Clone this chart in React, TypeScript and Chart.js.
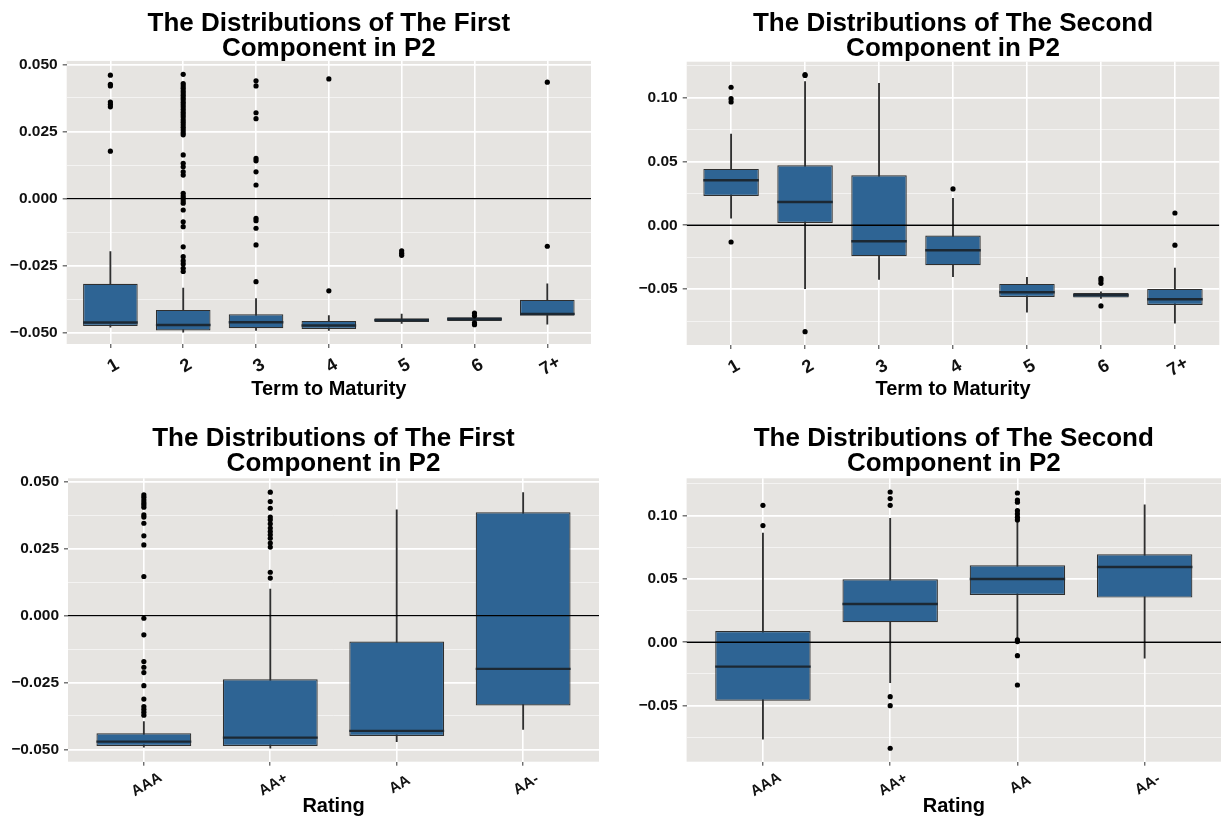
import React, { useEffect, useRef } from "react";
import { Chart, registerables } from "chart.js";

Chart.register(...registerables);

// ---------------- Data ----------------
const termCategories = ["1", "2", "3", "4", "5", "6", "7+"];
const ratingCategories = ["AAA", "AA+", "AA", "AA-"];

const firstTitle = ["The Distributions of The First", "Component in P2"];
const secondTitle = ["The Distributions of The Second", "Component in P2"];
const termAxisTitle = "Term to Maturity";
const ratingAxisTitle = "Rating";

// y tick labels
const firstTickValues = [-0.05, -0.025, 0, 0.025, 0.05];
const firstTickLabels = ["\u22120.050", "\u22120.025", "0.000", "0.025", "0.050"];
const firstMinorValues = [-0.0375, -0.0125, 0.0125, 0.0375];
const secondTickValues = [-0.05, 0, 0.05, 0.1];
const secondTickLabels = ["\u22120.05", "0.00", "0.05", "0.10"];
const secondMinorValues = [-0.075, -0.025, 0.025, 0.075, 0.125];

// Panel A: first component by term to maturity
const termFirstLow = [-0.0478, -0.0497, -0.049, -0.049, -0.0464, -0.0458, -0.0467];
const termFirstQ1 = [-0.0474, -0.0491, -0.0482, -0.0485, -0.0459, -0.0455, -0.0436];
const termFirstMedian = [-0.0461, -0.047, -0.046, -0.0472, -0.0452, -0.0448, -0.0429];
const termFirstQ3 = [-0.0317, -0.0414, -0.043, -0.0455, -0.0445, -0.0441, -0.0376];
const termFirstHigh = [-0.0197, -0.0333, -0.0372, -0.0435, -0.043, -0.0438, -0.0317];
const termFirstOutliers = [
  [0.046, 0.0426, 0.042, 0.036, 0.0351, 0.0342, 0.0177],
  [0.0463, 0.0429, 0.042, 0.0411, 0.0402, 0.0394, 0.0385, 0.0376, 0.0368, 0.0359, 0.035, 0.0341,
    0.0332, 0.0322, 0.0313, 0.0304, 0.0294, 0.0285, 0.0275, 0.0266, 0.0256, 0.0246, 0.0238,
    0.0163, 0.0132, 0.0119, 0.01, 0.0088, 0.002, 0.001, 0.0001, -0.0009, -0.0017, -0.0042,
    -0.0086, -0.0104, -0.0179, -0.0216, -0.0231, -0.0243, -0.0259, -0.0271],
  [0.0439, 0.042, 0.032, 0.0298, 0.015, 0.0141, 0.01, 0.0051, -0.0073, -0.0082, -0.011, -0.0172, -0.0309],
  [0.0446, -0.0343],
  [-0.0194, -0.0203, -0.0211],
  [-0.0426, -0.0436, -0.0462, -0.0469],
  [0.0434, -0.0177],
];

// Panel B: second component by term to maturity
const termSecondLow = [0.0055, -0.0496, -0.0423, -0.0402, -0.0681, -0.0572, -0.0767];
const termSecondQ1 = [0.0229, 0.0018, -0.0243, -0.0313, -0.0561, -0.0566, -0.0624];
const termSecondMedian = [0.0352, 0.0182, -0.0125, -0.0196, -0.0524, -0.0548, -0.0579];
const termSecondQ3 = [0.0441, 0.0469, 0.0391, -0.0081, -0.0459, -0.053, -0.0498];
const termSecondHigh = [0.0714, 0.1124, 0.1111, 0.0211, -0.0407, -0.052, -0.0336];
const termSecondOutliers = [
  [0.108, 0.0991, 0.0965, -0.0131],
  [0.118, 0.1172, -0.0833],
  [],
  [0.0284],
  [],
  [-0.0415, -0.0433, -0.0454, -0.0631],
  [0.0096, -0.0156],
];

// Panel C: first component by rating
const ratingFirstLow = [-0.0492, -0.0495, -0.0471, -0.0425];
const ratingFirstQ1 = [-0.0487, -0.0487, -0.045, -0.0336];
const ratingFirstMedian = [-0.0471, -0.0456, -0.0431, -0.0199];
const ratingFirstQ3 = [-0.044, -0.0238, -0.0097, 0.0386];
const ratingFirstHigh = [-0.0396, 0.0099, 0.0395, 0.046];
const ratingFirstOutliers = [
  [0.0451, 0.0442, 0.0432, 0.0422, 0.0414, 0.0405, 0.0376, 0.0368, 0.0345, 0.0298, 0.0264, 0.0146,
    -0.001, -0.0072, -0.0172, -0.0193, -0.0213, -0.0262, -0.0312, -0.034, -0.035, -0.0361, -0.0372],
  [0.0461, 0.0426, 0.0401, 0.0368, 0.0358, 0.0343, 0.0327, 0.0314, 0.0302, 0.0289, 0.0271, 0.0256, 0.0162, 0.014],
  [],
  [],
];

// Panel D: second component by rating
const ratingSecondLow = [-0.0765, -0.0319, 0.0032, -0.0126];
const ratingSecondQ1 = [-0.0461, 0.0158, 0.0373, 0.0352];
const ratingSecondMedian = [-0.0192, 0.0302, 0.0499, 0.0594];
const ratingSecondQ3 = [0.0089, 0.0497, 0.0607, 0.0694];
const ratingSecondHigh = [0.086, 0.0978, 0.0951, 0.1083];
const ratingSecondOutliers = [
  [0.108, 0.092],
  [0.1185, 0.1133, 0.108, -0.0429, -0.05, -0.0836],
  [0.1177, 0.1122, 0.1104, 0.1038, 0.1012, 0.0986, 0.0965, 0.0018, 0.0005, -0.0106, -0.0337],
  [],
];

// ---------------- Styles ----------------
const FONT = "'Liberation Sans', Arial, Helvetica, sans-serif";
const PANEL_BG = "#E6E4E1";
const BOX_FILL = "#2E6494";
const BOX_LINE = "#2f2f2f";
const MEDIAN_LINE = "#1c2833";
const TEXT = "#111111";
const BOX_WIDTH = 0.75;

type Spec = {
  title: string[];
  xTitle: string;
  cats: string[];
  low: number[];
  q1: number[];
  med: number[];
  q3: number[];
  high: number[];
  outliers: number[][];
  yMin: number;
  yMax: number;
  yMajor: number[];
  yLabels: string[];
  yMinor: number[];
  left: number;
  top: number;
  width: number;
  height: number;
  area: { left: number; right: number; top: number; bottom: number };
  titlePadTop: number;
  xTitlePadBottom: number;
  xLabelSize: number;
  xLabelDy: number;
};

const TITLE_LH = 0.96;
const TITLE_SIZE = 26;

const specs: Spec[] = [
  {
    title: firstTitle, xTitle: termAxisTitle, cats: termCategories,
    low: termFirstLow, q1: termFirstQ1, med: termFirstMedian, q3: termFirstQ3, high: termFirstHigh,
    outliers: termFirstOutliers,
    yMin: -0.0541, yMax: 0.0513, yMajor: firstTickValues, yLabels: firstTickLabels, yMinor: firstMinorValues,
    left: 0, top: 0, width: 612, height: 410,
    area: { left: 66.7, right: 591, top: 60.7, bottom: 344 },
    titlePadTop: 11, xTitlePadBottom: 9, xLabelSize: 18, xLabelDy: 22,
  },
  {
    title: secondTitle, xTitle: termAxisTitle, cats: termCategories,
    low: termSecondLow, q1: termSecondQ1, med: termSecondMedian, q3: termSecondQ3, high: termSecondHigh,
    outliers: termSecondOutliers,
    yMin: -0.0937, yMax: 0.128, yMajor: secondTickValues, yLabels: secondTickLabels, yMinor: secondMinorValues,
    left: 612, top: 0, width: 613, height: 410,
    area: { left: 74.7, right: 607.3, top: 61.7, bottom: 345 },
    titlePadTop: 11, xTitlePadBottom: 9, xLabelSize: 18, xLabelDy: 22,
  },
  {
    title: firstTitle, xTitle: ratingAxisTitle, cats: ratingCategories,
    low: ratingFirstLow, q1: ratingFirstQ1, med: ratingFirstMedian, q3: ratingFirstQ3, high: ratingFirstHigh,
    outliers: ratingFirstOutliers,
    yMin: -0.0546, yMax: 0.0513, yMajor: firstTickValues, yLabels: firstTickLabels, yMinor: firstMinorValues,
    left: 0, top: 410, width: 612, height: 410,
    area: { left: 68, right: 599, top: 68.3, bottom: 351.7 },
    titlePadTop: 16, xTitlePadBottom: 1.5, xLabelSize: 15, xLabelDy: 23,
  },
  {
    title: secondTitle, xTitle: ratingAxisTitle, cats: ratingCategories,
    low: ratingSecondLow, q1: ratingSecondQ1, med: ratingSecondMedian, q3: ratingSecondQ3, high: ratingSecondHigh,
    outliers: ratingSecondOutliers,
    yMin: -0.0942, yMax: 0.1293, yMajor: secondTickValues, yLabels: secondTickLabels, yMinor: secondMinorValues,
    left: 612, top: 410, width: 613, height: 410,
    area: { left: 74.6, right: 609.4, top: 68.3, bottom: 351.7 },
    titlePadTop: 16, xTitlePadBottom: 1.5, xLabelSize: 15, xLabelDy: 23,
  },
];

function makeChart(canvas: HTMLCanvasElement, p: Spec) {
  const n = p.cats.length;
  const xs = p.cats.map((_, i) => i + 1);
  const whiskers = xs.map((x, i) => ({ x, y: [p.low[i], p.high[i]] }));
  const boxes = xs.map((x, i) => ({ x, y: [p.q1[i], p.q3[i]] }));
  const medians = xs.map((x, i) => ({ x, y: p.med[i] }));
  const outs = p.outliers.flatMap((arr, i) => arr.map((v) => ({ x: i + 1, y: v })));
  const zeroLine = [{ x: 0.4, y: 0 }, { x: n + 0.6, y: 0 }];

  const majorSet = new Set(p.yMajor);
  const labelOf = new Map<number, string>(p.yMajor.map((v, i) => [v, p.yLabels[i]]));
  const yTicks = [...p.yMajor, ...p.yMinor].sort((a, b) => a - b);

  const halfBox = (ctx: any) => {
    const s = ctx.chart.scales.x;
    if (!s) return 20;
    return Math.abs(s.getPixelForValue(1 + BOX_WIDTH / 2) - s.getPixelForValue(1));
  };

  const titleLine = TITLE_SIZE * TITLE_LH;
  const titlePadBottom = Math.max(0, p.area.top - p.titlePadTop - titleLine * p.title.length);

  const panelBg = {
    id: "panelBg",
    beforeDraw(chart: any) {
      const { ctx, chartArea: a } = chart;
      ctx.save();
      ctx.fillStyle = PANEL_BG;
      ctx.fillRect(a.left, a.top, a.right - a.left, a.bottom - a.top);
      ctx.restore();
    },
  };

  const rotatedLabels = {
    id: "rotatedLabels",
    afterDraw(chart: any) {
      const ctx = chart.ctx;
      const sx = chart.scales.x;
      const b = chart.chartArea.bottom;
      ctx.save();
      ctx.font = `bold ${p.xLabelSize}px ${FONT}`;
      ctx.fillStyle = TEXT;
      ctx.textAlign = "center";
      ctx.textBaseline = "middle";
      p.cats.forEach((label, i) => {
        const x = sx.getPixelForValue(i + 1);
        ctx.save();
        ctx.translate(x + 3, b + p.xLabelDy);
        ctx.rotate(-Math.PI / 6);
        ctx.fillText(label, 0, 0);
        ctx.restore();
      });
      ctx.restore();
    },
  };

  return new Chart(canvas, {
    type: "bar",
    data: {
      datasets: [
        {
          type: "line",
          data: zeroLine,
          borderColor: "#000",
          borderWidth: 1.3,
          pointRadius: 0,
          order: 0,
        } as any,
        {
          type: "scatter",
          data: outs,
          pointRadius: 2.6,
          pointBackgroundColor: "#000",
          pointBorderWidth: 0,
          order: 1,
        } as any,
        {
          type: "scatter",
          data: medians,
          pointStyle: "line",
          pointRadius: halfBox,
          pointBorderColor: MEDIAN_LINE,
          pointBorderWidth: 2.4,
          order: 2,
        } as any,
        {
          type: "bar",
          data: boxes,
          grouped: false,
          barPercentage: BOX_WIDTH,
          categoryPercentage: 1,
          backgroundColor: BOX_FILL,
          borderColor: BOX_LINE,
          borderWidth: 1.2,
          borderSkipped: false,
          order: 3,
        } as any,
        {
          type: "bar",
          data: whiskers,
          grouped: false,
          barThickness: 1.2,
          backgroundColor: BOX_LINE,
          borderWidth: 0,
          order: 4,
        } as any,
      ],
    },
    options: {
      animation: false,
      responsive: false,
      events: [],
      layout: { padding: { left: 0, top: 0, bottom: 0, right: p.width - p.area.right } },
      plugins: {
        legend: { display: false },
        tooltip: { enabled: false },
        title: {
          display: true,
          text: p.title,
          fullSize: false,
          color: "#000",
          font: { family: FONT, size: TITLE_SIZE, weight: "bold", lineHeight: TITLE_LH },
          padding: { top: p.titlePadTop, bottom: titlePadBottom },
        },
      },
      scales: {
        x: {
          type: "linear",
          min: 0.4,
          max: n + 0.6,
          offset: false,
          afterBuildTicks: (s: any) => {
            s.ticks = xs.map((v) => ({ value: v }));
          },
          afterFit: (s: any) => {
            s.height = p.height - p.area.bottom;
          },
          ticks: { display: false, autoSkip: false },
          grid: {
            offset: false,
            color: "#ffffff",
            lineWidth: 1.6,
            drawTicks: true,
            tickLength: 4,
            tickColor: "#333333",
            tickWidth: 1,
          },
          border: { display: false },
          title: {
            display: true,
            text: p.xTitle,
            color: "#000",
            font: { family: FONT, size: 20, weight: "bold", lineHeight: 1.2 },
            padding: { top: 0, bottom: p.xTitlePadBottom },
          },
        },
        y: {
          type: "linear",
          min: p.yMin,
          max: p.yMax,
          afterBuildTicks: (s: any) => {
            s.ticks = yTicks.map((v) => ({ value: v }));
          },
          afterFit: (s: any) => {
            s.width = p.area.left;
          },
          ticks: {
            autoSkip: false,
            padding: 5,
            color: TEXT,
            font: { family: FONT, size: 15.5, weight: "bold" },
            callback: (v: any) => labelOf.get(v) ?? "",
          },
          grid: {
            offset: false,
            color: (c: any) => (majorSet.has(c.tick?.value) ? "#ffffff" : "rgba(255,255,255,0.7)"),
            lineWidth: (c: any) => (majorSet.has(c.tick?.value) ? 1.7 : 0.8),
            drawTicks: true,
            tickLength: 4,
            tickWidth: 1,
            tickColor: (c: any) => (majorSet.has(c.tick?.value) ? "#333333" : "rgba(0,0,0,0)"),
          },
          border: { display: false },
        },
      },
    } as any,
    plugins: [panelBg, rotatedLabels],
  });
}

function Panel({ spec }: { spec: Spec }) {
  const ref = useRef<HTMLCanvasElement | null>(null);
  useEffect(() => {
    if (!ref.current) return;
    const chart = makeChart(ref.current, spec);
    return () => chart.destroy();
  }, [spec]);
  return (
    <canvas
      ref={ref}
      width={spec.width}
      height={spec.height}
      style={{ position: "absolute", left: spec.left, top: spec.top, width: spec.width, height: spec.height }}
    />
  );
}

export default function App() {
  return (
    <div
      style={{
        position: "fixed",
        left: 0,
        top: 0,
        width: 1225,
        height: 820,
        background: "#ffffff",
        overflow: "hidden",
      }}
    >
      {specs.map((s, i) => (
        <Panel key={i} spec={s} />
      ))}
    </div>
  );
}
